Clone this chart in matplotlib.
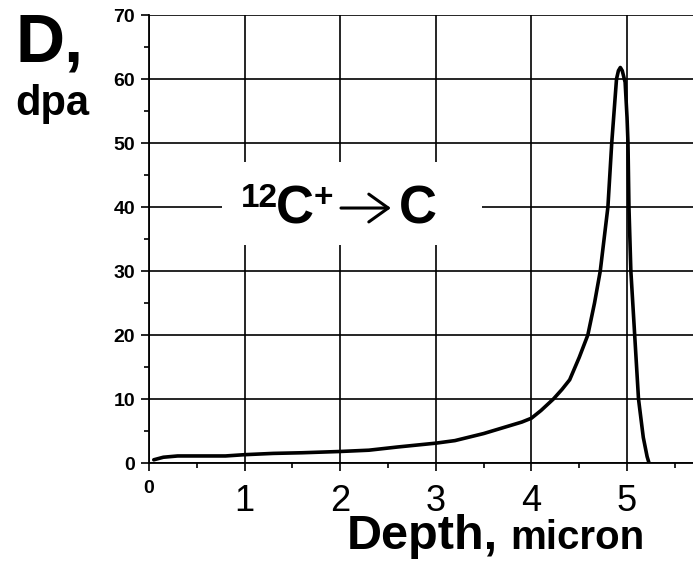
import numpy as np
import matplotlib
matplotlib.use("Agg")
from matplotlib import pyplot as plt
from matplotlib.patches import Rectangle, FancyArrowPatch
from matplotlib.ticker import MultipleLocator

plt.rcParams['font.family'] = ['Liberation Sans', 'DejaVu Sans']

# damage profile
depth = [0.05, 0.15, 0.3, 0.5, 0.8, 1.0, 1.3, 1.6, 2.0, 2.3, 2.6, 2.8, 3.0,
         3.2, 3.5, 3.7, 3.9, 4.0, 4.1, 4.23, 4.32, 4.4, 4.5, 4.59, 4.66,
         4.72, 4.76, 4.80, 4.82, 4.84, 4.865, 4.89, 4.91, 4.93, 4.95, 4.98,
         5.0, 5.01, 5.02, 5.04, 5.08, 5.12, 5.17, 5.21, 5.23]
dpa = [0.5, 0.9, 1.1, 1.1, 1.1, 1.3, 1.5, 1.6, 1.8, 2.0, 2.5, 2.8, 3.1,
       3.5, 4.6, 5.5, 6.4, 7.0, 8.2, 10.0, 11.5, 13.0, 16.5, 20, 25,
       30, 35, 40, 45, 50, 55, 60, 61.3, 61.8, 61.3, 59.5,
       54, 50, 40, 30, 20, 10, 4, 1, 0]

xtick_vals = [0, 1, 2, 3, 4, 5]
xtick_text = ['0', '1', '2', '3', '4', '5']
ytick_vals = [0, 10, 20, 30, 40, 50, 60, 70]

W, H = 693, 561
fig = plt.figure(figsize=(W / 100, H / 100), dpi=100)
ax = fig.add_axes([149 / W, (H - 463) / H, (W - 149) / W, (463 - 15) / H])

ax.set_xlim(0, 5.69)
ax.set_ylim(0, 70)

for s in ['top', 'right']:
    ax.spines[s].set_visible(False)
for s in ['left', 'bottom']:
    ax.spines[s].set_linewidth(1.3)

ax.set_xticks(xtick_vals)
ax.set_xticklabels([])
ax.set_yticks(ytick_vals)
ax.xaxis.set_minor_locator(MultipleLocator(0.5))
ax.yaxis.set_minor_locator(MultipleLocator(5))
ax.tick_params(which='major', direction='out', length=6, width=1.2, pad=4)
ax.tick_params(which='minor', direction='out', length=3.5, width=1.2)
for lbl in ax.get_yticklabels():
    lbl.set_fontsize(14)
    lbl.set_fontweight('bold')

# x tick labels: small bold zero, large plain digits
xt = ax.get_xaxis_transform()
for v, t in zip(xtick_vals, xtick_text):
    if v == 0:
        ax.text(v, -30 / 448, t, transform=xt, fontsize=14, fontweight='bold',
                ha='center', va='baseline')
    else:
        ax.text(v, -48 / 448, t, transform=xt, fontsize=26,
                ha='center', va='baseline')

ax.grid(True, which='major', color='black', linewidth=1.2)
ax.set_axisbelow(True)

# white label box covering the grid
ax.add_patch(Rectangle((0.76, 34), 2.72, 13, facecolor='white',
                       edgecolor='none', zorder=2))
ax.text(0.96, 40.0, '12', fontsize=24, fontweight='bold',
        ha='left', va='baseline', zorder=3)
ax.text(1.33, 37.5, 'C', fontsize=38, fontweight='bold',
        ha='left', va='baseline', zorder=3)
ax.text(1.72, 40.0, '+', fontsize=24, fontweight='bold',
        ha='left', va='baseline', zorder=3)
ax.add_patch(FancyArrowPatch((2.008, 39.84), (2.53, 39.84),
                             arrowstyle='->,head_length=14,head_width=10',
                             mutation_scale=1, linewidth=2.2, color='black',
                             shrinkA=0, shrinkB=0, zorder=3))
ax.text(2.61, 37.5, 'C', fontsize=38, fontweight='bold',
        ha='left', va='baseline', zorder=3)

ax.plot(depth, dpa, color='black', linewidth=2.6, zorder=4,
        solid_joinstyle='round', solid_capstyle='round')

fig.text(15 / W, 1 - 62 / H, 'D,', fontsize=49, fontweight='bold',
         ha='left', va='baseline')
fig.text(15 / W, 1 - 115 / H, 'dpa', fontsize=30, fontweight='bold',
         ha='left', va='baseline')
fig.text(347 / W, 1 - 549 / H, 'Depth,', fontsize=35, fontweight='bold',
         ha='left', va='baseline')
fig.text(510 / W, 1 - 549 / H, 'micron', fontsize=29, fontweight='bold',
         ha='left', va='baseline')

fig.savefig('out.png', dpi=100)
